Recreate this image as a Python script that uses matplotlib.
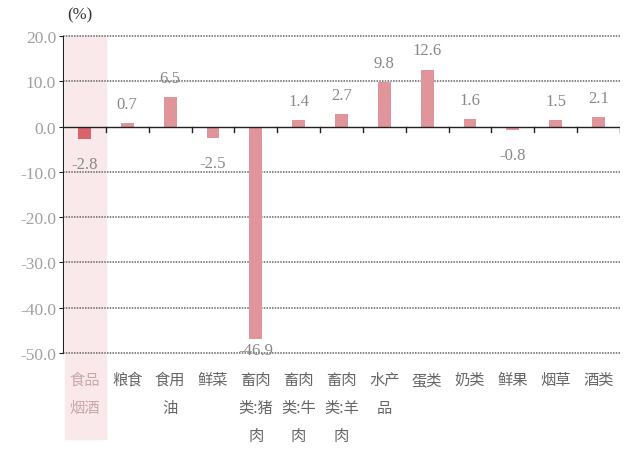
import matplotlib.pyplot as plt
from matplotlib.transforms import blended_transform_factory

# 分类与同比涨幅 (%)
categories = ["食品\n烟酒", "粮食", "食用\n油", "鲜菜", "畜肉\n类:猪\n肉", "畜肉\n类:牛\n肉",
              "畜肉\n类:羊\n肉", "水产\n品", "蛋类", "奶类", "鲜果", "烟草", "酒类"]
values = [-2.8, 0.7, 6.5, -2.5, -46.9, 1.4, 2.7, 9.8, 12.6, 1.6, -0.8, 1.5, 2.1]
yticks = [20, 10, 0, -10, -20, -30, -40, -50]

BAR_COLOR = "#e0959a"
HIGHLIGHT_BAR = "#d9646b"
BAND_COLOR = "#f9e9eb"
SERIF = ["Liberation Serif", "DejaVu Serif"]
CJK = ["Noto Sans CJK SC", "DejaVu Sans"]

fig = plt.figure(figsize=(6.25, 4.52), dpi=100)
ax = fig.add_axes([0.1008, 0.217, 0.891, 0.701])

x = list(range(len(values)))
colors = [HIGHLIGHT_BAR] + [BAR_COLOR] * (len(values) - 1)
ax.bar(x, values, width=0.3, color=colors, zorder=3)

ax.set_xlim(-0.5, len(values) - 0.5)
ax.set_ylim(-50, 20)

# 第一个分类的底色带，一直延伸到分类标签下方
trans = blended_transform_factory(ax.transData, fig.transFigure)
ax.add_patch(plt.Rectangle((-0.45, 1 - 440 / 452), 0.95, (440 - 37) / 452,
                           transform=trans, color=BAND_COLOR, zorder=0,
                           clip_on=False))

# 虚线网格
for t in yticks:
    if t != 0:
        ax.axhline(t, color="#666666", linestyle=(0, (1, 0.8)), linewidth=1.1,
                   zorder=1, clip_on=False)

# 零轴及分类分隔刻度
ax.axhline(0, color="#222222", linewidth=1.0, zorder=4)
for b in range(len(values)):
    ax.plot([b + 0.5, b + 0.5], [0, -1.1], color="#222222", linewidth=1.0, zorder=4)

for s in ["top", "right", "bottom"]:
    ax.spines[s].set_visible(False)
ax.spines["left"].set_color("#222222")
ax.spines["left"].set_zorder(5)

ax.set_yticks(yticks)
ax.set_yticklabels([f"{t:.1f}" for t in yticks], fontfamily=SERIF, fontsize=12.5,
                   color="#a0a0a0")
ax.tick_params(axis="y", direction="out", length=3, color="#222222", pad=2)
ax.set_xticks([])

# 数值标签
for i, v in enumerate(values):
    if v >= 0:
        ax.annotate(f"{v:.1f}", (i, v), xytext=(0, 8), textcoords="offset points",
                    ha="center", va="bottom", fontfamily=SERIF, fontsize=12,
                    color="#888888", zorder=6)
    else:
        off = -2 if v < -40 else -12
        ax.annotate(f"{v:.1f}", (i, v), xytext=(0, off), textcoords="offset points",
                    ha="center", va="top", fontfamily=SERIF, fontsize=12,
                    color="#888888", zorder=6)

# 分类标签
for i, c in enumerate(categories):
    ax.annotate(c, (i, -50), xytext=(0, -13), textcoords="offset points",
                ha="center", va="top", fontfamily=CJK, fontsize=11,
                linespacing=1.85, color="#c9a8aa" if i == 0 else "#666666",
                annotation_clip=False)

fig.text(80 / 625, 1 - 15 / 452, "(%)", fontfamily=SERIF, fontsize=12,
         color="#333333", ha="center", va="center")

fig.savefig("out.png", dpi=100, facecolor="white")
